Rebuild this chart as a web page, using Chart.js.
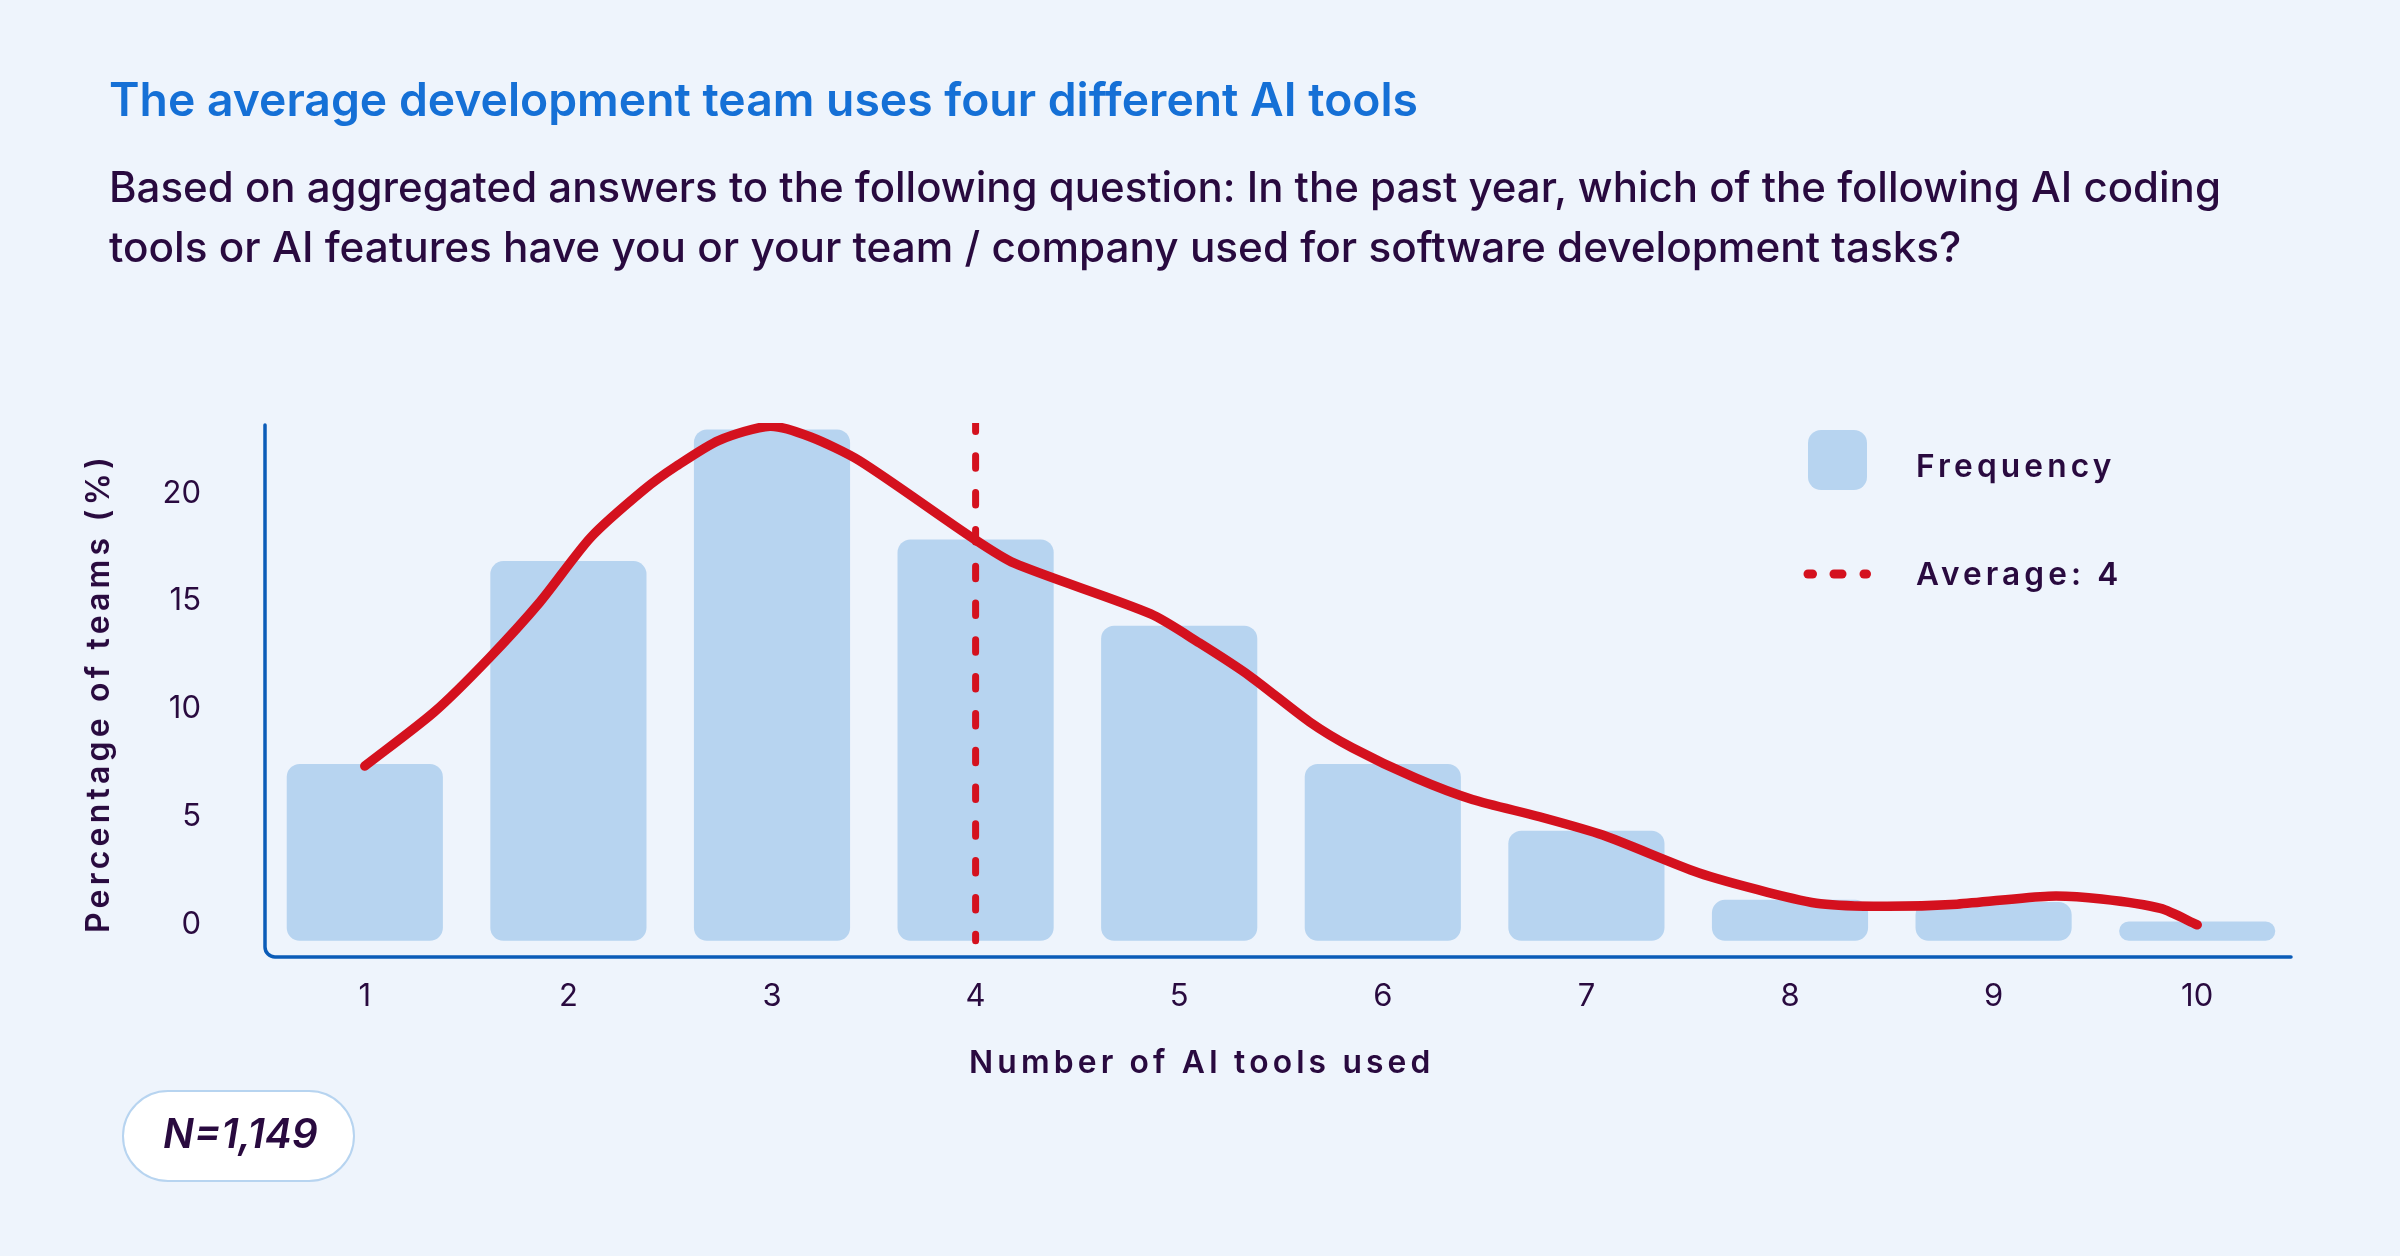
<!DOCTYPE html>
<html>
<head>
<meta charset="utf-8">
<script src="https://cdn.jsdelivr.net/npm/chart.js@4"></script>
<style>
  html, body { margin: 0; padding: 0; background: #eef4fc; }
  body { width: 2400px; height: 1256px; position: relative; overflow: hidden; font-family: Inter, sans-serif; color: #290a3f; }
  #chart { position: absolute; left: 0; top: 0; }
  .txt { position: absolute; white-space: nowrap; line-height: 1; transform: translateY(-50%); }
  .sub { font-size: 38px; font-weight: 500; }
  .spaced { font-weight: 600; letter-spacing: 0.13em; }
  #ytitle { transform: translate(-50%, -50%) rotate(-90deg); }
  #badge { position: absolute; left: 122px; top: 1090px; width: 229px; height: 88px; border-radius: 46px;
           background: #fff; border: 2px solid #b7d4f0; }
  .swatch { position: absolute; left: 1808px; top: 430px; width: 59px; height: 60px; border-radius: 13px; background: #b7d4f0; }
  svg { position: absolute; left: 0; top: 0; }
</style>
</head>
<body>
<canvas id="chart" width="2400" height="1256"></canvas>

<div class="txt" data-w="1310" style="left:109px; top:99px; font-size:44px; font-weight:600; color:#1570d6;">The average development team uses four different AI tools</div>
<div class="txt sub" data-w="2113" style="left:109px; top:187px;">Based on aggregated answers to the following question: In the past year, which of the following AI coding</div>
<div class="txt sub" data-w="1853" style="left:109px; top:247px;">tools or AI features have you or your team / company used for software development tasks?</div>

<div class="txt spaced" data-w="466" style="left:969px; top:1062px; font-size:28px;">Number of AI tools used</div>
<div id="ytitle" class="txt spaced" data-w="480" style="left:98px; top:693px; font-size:28px;">Percentage of teams (%)</div>

<div class="swatch"></div>
<svg width="2400" height="1256">
  <g stroke="#d4111e" stroke-width="9" stroke-linecap="round">
    <line x1="1808" y1="574" x2="1812.5" y2="574"/>
    <line x1="1834" y1="574" x2="1842" y2="574"/>
    <line x1="1864" y1="574" x2="1866.5" y2="574"/>
  </g>
</svg>
<div class="txt spaced" data-w="200" style="left:1916px; top:466px; font-size:29px;">Frequency</div>
<div class="txt spaced" data-w="207" style="left:1916px; top:574px; font-size:29px;">Average: 4</div>

<div id="badge"></div>
<div class="txt" data-w="155" style="left:163px; top:1134px; font-size:33px; font-weight:600; font-style:italic;">N=1,149</div>

<script>
// share of teams (%) per number of AI tools used
const categories = ["1", "2", "3", "4", "5", "6", "7", "8", "9", "10"];
const frequency = [8.2, 17.6, 23.7, 18.6, 14.6, 8.2, 5.1, 1.9, 1.8, 0.9];

// smoothed distribution curve
const curveX = [1.0, 1.34, 1.61, 1.86, 2.11, 2.37, 2.53, 2.74, 2.99, 3.19, 3.43, 3.98, 4.19, 4.86, 5.1,
  5.35, 5.64, 5.85, 6.16, 6.44, 6.77, 7.08, 7.55, 7.89, 8.15, 8.46, 8.82, 9.27, 9.53, 9.82, 10.0];
const curveY = [8.1, 10.6, 13.1, 15.7, 18.7, 20.9, 22.0, 23.2, 23.85, 23.35, 22.25, 18.7, 17.5, 15.15, 13.8,
  12.25, 10.15, 8.95, 7.55, 6.55, 5.75, 4.9, 3.15, 2.25, 1.72, 1.6, 1.7, 2.07, 1.94, 1.5, 0.74];

const averageTools = 4;
const yTicks = [0, 5, 10, 15, 20];

const textColor = "#290a3f";
const red = "#d4111e";

// stretch the html texts to the widths they have in the source
document.querySelectorAll("[data-w]").forEach((el) => {
  const fs = parseFloat(getComputedStyle(el).fontSize);
  el.style.fontSize = (fs * Number(el.dataset.w) / el.offsetWidth) + "px";
});

// L-shaped axis with rounded corner
const axisFrame = {
  id: "axisFrame",
  beforeDatasetsDraw(chart) {
    const { ctx, chartArea: a } = chart;
    const r = 10;
    const x0 = a.left + 2;
    ctx.save();
    ctx.strokeStyle = "#0b5cb8";
    ctx.lineWidth = 3.5;
    ctx.lineCap = "round";
    ctx.beginPath();
    ctx.moveTo(x0, a.top + 2);
    ctx.lineTo(x0, a.bottom - r);
    ctx.arcTo(x0, a.bottom, x0 + r, a.bottom, r);
    ctx.lineTo(a.right - 8, a.bottom);
    ctx.stroke();
    ctx.restore();
  },
};

Chart.defaults.font.family = "Inter, sans-serif";

new Chart(document.getElementById("chart"), {
  data: {
    labels: categories,
    datasets: [
      {
        type: "line",
        label: "Average: 4",
        xAxisID: "x2",
        data: [{ x: averageTools, y: 24 }, { x: averageTools, y: 0 }],
        borderColor: red,
        borderWidth: 7,
        borderDash: [12.5, 24.3],
        borderDashOffset: 4,
        borderCapStyle: "round",
        pointRadius: 0,
        order: 0,
      },
      {
        type: "line",
        label: "Distribution",
        xAxisID: "x2",
        data: curveX.map((x, i) => ({ x: x, y: curveY[i] })),
        borderColor: red,
        borderWidth: 9.5,
        tension: 0.25,
        borderCapStyle: "round",
        borderJoinStyle: "round",
        pointRadius: 0,
        order: 1,
      },
      {
        type: "bar",
        label: "Frequency",
        data: frequency,
        backgroundColor: "#b7d4f0",
        borderRadius: 13,
        borderSkipped: false,
        grouped: false,
        barPercentage: 0.767,
        categoryPercentage: 1,
        order: 2,
      },
    ],
  },
  options: {
    responsive: false,
    animation: false,
    layout: { padding: { top: 423, right: 101, left: 0, bottom: 0 } },
    plugins: {
      legend: { display: false },
      tooltip: { enabled: false },
    },
    scales: {
      x: {
        type: "category",
        offset: true,
        grid: { display: false },
        border: { display: false },
        ticks: { color: textColor, font: { size: 31 }, padding: 13 },
        afterFit(s) { s.height = 299; },
      },
      x2: { type: "linear", display: false, offset: false, min: 0.5, max: 10.5 },
      y: {
        min: -0.75,
        max: 24,
        grid: { display: false },
        border: { display: false },
        afterBuildTicks(s) { s.ticks = yTicks.map((v) => ({ value: v })); },
        ticks: { color: textColor, font: { size: 31 }, padding: 54, labelOffset: -16 },
        afterFit(s) { s.width = 263; },
      },
    },
  },
  plugins: [axisFrame],
});
</script>
</body>
</html>
